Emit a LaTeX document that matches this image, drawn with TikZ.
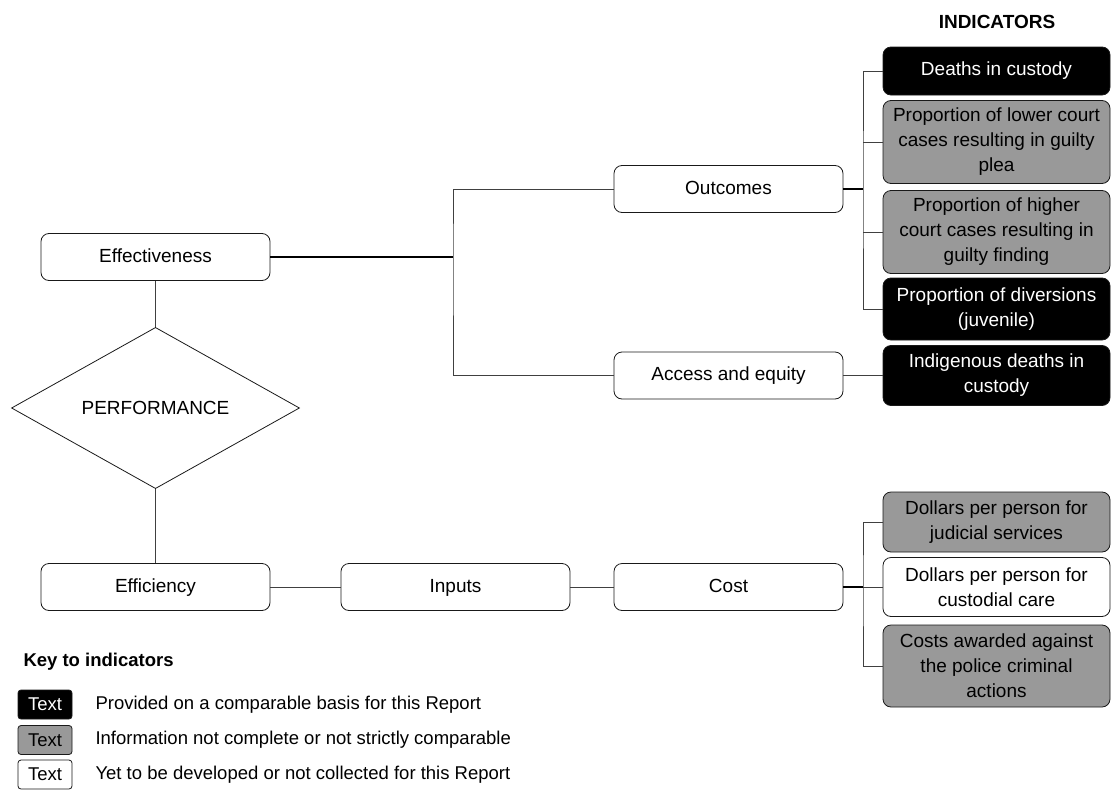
\documentclass[tikz,border=0pt]{standalone}
\usepackage{fontspec}
\setmainfont{Liberation Sans}
\usetikzlibrary{shapes.geometric}
\definecolor{partgray}{RGB}{153,153,153}

\begin{document}
\begin{tikzpicture}[x=1pt,y=-1pt,
      every node/.style={font=\fontsize{19}{25}\selectfont},
      branch/.style={draw=black!90,line width=0.8pt,rounded corners=8pt,minimum width=229pt,minimum height=47pt,inner sep=0pt,text height=14pt,text depth=4pt},
      indicator/.style={draw=black!90,line width=0.8pt,rounded corners=8pt,minimum width=227pt,align=center,inner sep=0pt},
      given/.style={indicator,fill=black,text=white},
      partial/.style={indicator,fill=partgray},
      pending/.style={indicator,fill=white},
      keybox/.style={minimum width=54pt,minimum height=29pt,rounded corners=3pt,font=\fontsize{18.5}{22}\selectfont},
      keytext/.style={anchor=west,font=\fontsize{18.5}{22}\selectfont},
      link/.style={draw=black!75,line width=0.9pt},
      trunk/.style={draw=black,line width=2pt}]
      \useasboundingbox (0,0) rectangle (1112,790);

      \node (title) at (997,22) {\textbf{INDICATORS}};

      \node[branch] (eff) at (155.5,257) {Effectiveness};
      \node[draw=black!90,line width=0.8pt,diamond,minimum width=288pt,minimum height=150pt,inner sep=0pt] (perf) at (155.5,408) {PERFORMANCE};
      \node[branch] (effi) at (155.5,587) {Efficiency};
      \node[branch] (inp) at (455.5,587) {Inputs};
      \node[branch] (cost) at (728.5,587) {Cost};
      \node[branch] (out) at (728.5,189) {Outcomes};
      \node[branch] (acc) at (728.5,375.5) {Access and equity};

      \node[given,minimum height=48pt] (deaths) at (996.5,71) {Deaths in custody};
      \node[partial,minimum height=83pt] (lower) at (996.5,142) {Proportion of lower court\\cases resulting in guilty\\plea};
      \node[partial,minimum height=83pt] (higher) at (996.5,232) {Proportion of higher\\court cases resulting in\\guilty finding};
      \node[given,minimum height=62pt] (divers) at (996.5,309) {Proportion of diversions\\(juvenile)};
      \node[given,minimum height=60pt] (indig) at (996.5,375.5) {Indigenous deaths in\\custody};
      \node[partial,minimum height=60pt] (judic) at (996.5,522) {Dollars per person for\\judicial services};
      \node[pending,minimum height=59pt] (cust) at (996.5,587) {Dollars per person for\\custodial care};
      \node[partial,minimum height=82pt] (award) at (996.5,666) {Costs awarded against\\the police criminal\\actions};

      \coordinate (split) at (453,257);
      \coordinate (obar) at (863,189);
      \coordinate (cbar) at (863,587);

      \draw[trunk] (eff.east) -- (split);
      \draw[link] (out.west) -| (split) |- (acc.west);
      \draw[link] (eff.south) -- (perf.north);
      \draw[link] (perf.south) -- (effi.north);
      \draw[link] (effi.east) -- (inp.west);
      \draw[link] (inp.east) -- (cost.west);

      \draw[trunk] (out.east) -- (obar);
      \draw[link] (deaths.west) -| (obar) |- (divers.west);
      \draw[link] (lower.west) -- (lower.west -| obar);
      \draw[link] (higher.west) -- (higher.west -| obar);
      \draw[link] (acc.east) -- (indig.west);

      \draw[trunk] (cost.east) -- (cbar);
      \draw[link] (judic.west) -| (cbar) |- (award.west);
      \draw[link] (cust.west) -- (cbar);

      \node[keytext] (keyttl) at (20,662) {\textbf{Key to indicators}};
      \node[given,keybox] (k1) at (45,704.5) {Text};
      \node[partial,keybox] (k2) at (45,740) {Text};
      \node[pending,keybox] (k3) at (45,774.5) {Text};
      \node[keytext] (l1) at (92,704.5) {Provided on a comparable basis for this Report};
      \node[keytext] (l2) at (92,740) {Information not complete or not strictly comparable};
      \node[keytext] (l3) at (92,774.5) {Yet to be developed or not collected for this Report};
    \end{tikzpicture}
\end{document}
